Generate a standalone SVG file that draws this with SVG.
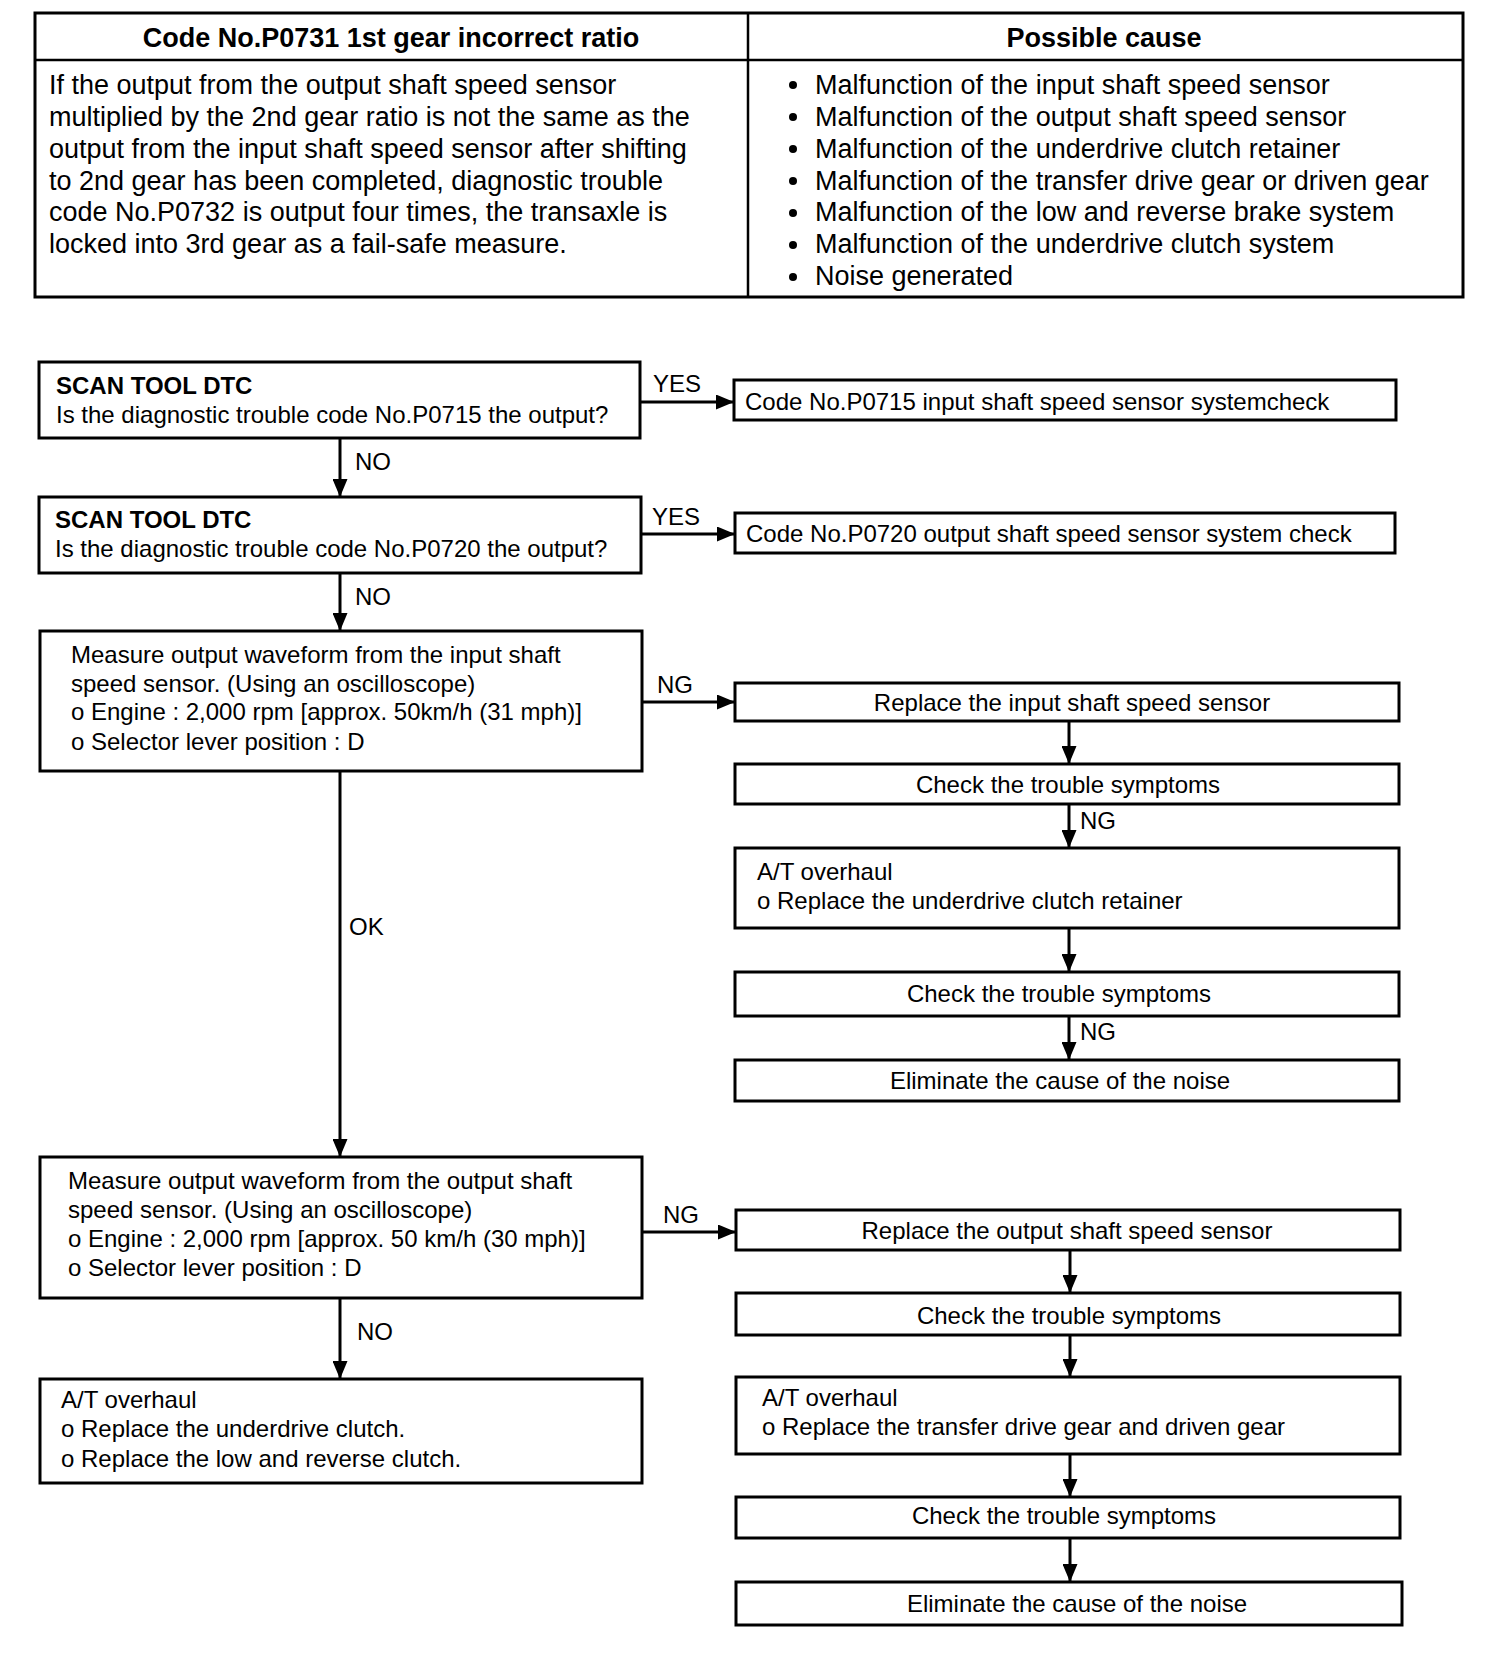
<svg xmlns="http://www.w3.org/2000/svg" width="1504" height="1668" viewBox="0 0 1504 1668">
<style>
.bx{fill:#fff;stroke:#000;stroke-width:3}
.t{font-family:"Liberation Sans",Arial,sans-serif;font-size:24px;fill:#000}
.tb{font-family:"Liberation Sans",Arial,sans-serif;font-size:27px;fill:#000}
.b{font-weight:bold}
.c{text-anchor:middle}
.ln{fill:none;stroke:#000;stroke-width:3}
</style>
<defs>
<marker id="ah" markerUnits="userSpaceOnUse" markerWidth="19" markerHeight="15" refX="18" refY="7.5" orient="auto">
<path d="M0,0 L18,7.5 L0,15 z" fill="#000"/>
</marker>
</defs>
<rect x="0" y="0" width="1504" height="1668" fill="#fff"/>

<g id="table">
<rect x="35" y="13" width="1428" height="284" fill="none" stroke="#000" stroke-width="3"/>
<line x1="35" y1="60" x2="1463" y2="60" stroke="#000" stroke-width="2.5"/>
<line x1="748" y1="13" x2="748" y2="297" stroke="#000" stroke-width="2.5"/>
<text class="tb b c" x="391" y="47">Code No.P0731 1st gear incorrect ratio</text>
<text class="tb b c" x="1104" y="47">Possible cause</text>
<text class="tb" x="49" y="94">If the output from the output shaft speed sensor</text>
<text class="tb" x="49" y="126">multiplied by the 2nd gear ratio is not the same as the</text>
<text class="tb" x="49" y="158">output from the input shaft speed sensor after shifting</text>
<text class="tb" x="49" y="190">to 2nd gear has been completed, diagnostic trouble</text>
<text class="tb" x="49" y="221">code No.P0732 is output four times, the transaxle is</text>
<text class="tb" x="49" y="253">locked into 3rd gear as a fail-safe measure.</text>
<g>
<circle cx="793" cy="85" r="4"/>
<circle cx="793" cy="117" r="4"/>
<circle cx="793" cy="149" r="4"/>
<circle cx="793" cy="181" r="4"/>
<circle cx="793" cy="213" r="4"/>
<circle cx="793" cy="245" r="4"/>
<circle cx="793" cy="277" r="4"/>
</g>
<text class="tb" x="815" y="94">Malfunction of the input shaft speed sensor</text>
<text class="tb" x="815" y="126">Malfunction of the output shaft speed sensor</text>
<text class="tb" x="815" y="158">Malfunction of the underdrive clutch retainer</text>
<text class="tb" x="815" y="190">Malfunction of the transfer drive gear or driven gear</text>
<text class="tb" x="815" y="221">Malfunction of the low and reverse brake system</text>
<text class="tb" x="815" y="253">Malfunction of the underdrive clutch system</text>
<text class="tb" x="815" y="285">Noise generated</text>
</g>

<g id="connectors">
<line class="ln" x1="640" y1="402" x2="734" y2="402" marker-end="url(#ah)"/>
<line class="ln" x1="340" y1="438" x2="340" y2="497" marker-end="url(#ah)"/>
<line class="ln" x1="641" y1="534" x2="735" y2="534" marker-end="url(#ah)"/>
<line class="ln" x1="340" y1="573" x2="340" y2="631" marker-end="url(#ah)"/>
<line class="ln" x1="642" y1="702" x2="735" y2="702" marker-end="url(#ah)"/>
<line class="ln" x1="1069" y1="721" x2="1069" y2="764" marker-end="url(#ah)"/>
<line class="ln" x1="1069" y1="804" x2="1069" y2="848" marker-end="url(#ah)"/>
<line class="ln" x1="1069" y1="928" x2="1069" y2="972" marker-end="url(#ah)"/>
<line class="ln" x1="1069" y1="1016" x2="1069" y2="1060" marker-end="url(#ah)"/>
<line class="ln" x1="340" y1="771" x2="340" y2="1157" marker-end="url(#ah)"/>
<line class="ln" x1="642" y1="1232" x2="736" y2="1232" marker-end="url(#ah)"/>
<line class="ln" x1="1070" y1="1250" x2="1070" y2="1293" marker-end="url(#ah)"/>
<line class="ln" x1="1070" y1="1335" x2="1070" y2="1377" marker-end="url(#ah)"/>
<line class="ln" x1="1070" y1="1454" x2="1070" y2="1497" marker-end="url(#ah)"/>
<line class="ln" x1="1070" y1="1538" x2="1070" y2="1582" marker-end="url(#ah)"/>
<line class="ln" x1="340" y1="1298" x2="340" y2="1379" marker-end="url(#ah)"/>
<text class="t" x="653" y="392">YES</text>
<text class="t" x="355" y="470">NO</text>
<text class="t" x="652" y="525">YES</text>
<text class="t" x="355" y="605">NO</text>
<text class="t" x="657" y="693">NG</text>
<text class="t" x="1080" y="829">NG</text>
<text class="t" x="349" y="935">OK</text>
<text class="t" x="1080" y="1040">NG</text>
<text class="t" x="663" y="1223">NG</text>
<text class="t" x="357" y="1340">NO</text>
</g>

<g id="nodeA">
<rect class="bx" x="39" y="362" width="601" height="76"/>
<text class="t b" x="56" y="394">SCAN TOOL DTC</text>
<text class="t" x="56" y="423">Is the diagnostic trouble code No.P0715 the output?</text>
</g>
<g id="nodeB">
<rect class="bx" x="734" y="380" width="662" height="40"/>
<text class="t" x="745" y="410">Code No.P0715 input shaft speed sensor systemcheck</text>
</g>
<g id="nodeC">
<rect class="bx" x="39" y="497" width="602" height="76"/>
<text class="t b" x="55" y="528">SCAN TOOL DTC</text>
<text class="t" x="55" y="557">Is the diagnostic trouble code No.P0720 the output?</text>
</g>
<g id="nodeD">
<rect class="bx" x="735" y="513" width="660" height="40"/>
<text class="t" x="746" y="542">Code No.P0720 output shaft speed sensor system check</text>
</g>
<g id="nodeE">
<rect class="bx" x="40" y="631" width="602" height="140"/>
<text class="t" x="71" y="663">Measure output waveform from the input shaft</text>
<text class="t" x="71" y="692">speed sensor. (Using an oscilloscope)</text>
<text class="t" x="71" y="720">o Engine : 2,000 rpm [approx. 50km/h (31 mph)]</text>
<text class="t" x="71" y="750">o Selector lever position : D</text>
</g>
<g id="nodeF">
<rect class="bx" x="735" y="683" width="664" height="38"/>
<text class="t c" x="1072" y="711">Replace the input shaft speed sensor</text>
</g>
<g id="nodeG">
<rect class="bx" x="735" y="764" width="664" height="40"/>
<text class="t c" x="1068" y="793">Check the trouble symptoms</text>
</g>
<g id="nodeH">
<rect class="bx" x="735" y="848" width="664" height="80"/>
<text class="t" x="757" y="880">A/T overhaul</text>
<text class="t" x="757" y="909">o Replace the underdrive clutch retainer</text>
</g>
<g id="nodeI">
<rect class="bx" x="735" y="972" width="664" height="44"/>
<text class="t c" x="1059" y="1002">Check the trouble symptoms</text>
</g>
<g id="nodeJ">
<rect class="bx" x="735" y="1060" width="664" height="41"/>
<text class="t c" x="1060" y="1089">Eliminate the cause of the noise</text>
</g>
<g id="nodeK">
<rect class="bx" x="40" y="1157" width="602" height="141"/>
<text class="t" x="68" y="1189">Measure output waveform from the output shaft</text>
<text class="t" x="68" y="1218">speed sensor. (Using an oscilloscope)</text>
<text class="t" x="68" y="1247">o Engine : 2,000 rpm [approx. 50 km/h (30 mph)]</text>
<text class="t" x="68" y="1276">o Selector lever position : D</text>
</g>
<g id="nodeL">
<rect class="bx" x="736" y="1210" width="664" height="40"/>
<text class="t c" x="1067" y="1239">Replace the output shaft speed sensor</text>
</g>
<g id="nodeM">
<rect class="bx" x="736" y="1293" width="664" height="42"/>
<text class="t c" x="1069" y="1324">Check the trouble symptoms</text>
</g>
<g id="nodeN">
<rect class="bx" x="736" y="1377" width="664" height="77"/>
<text class="t" x="762" y="1406">A/T overhaul</text>
<text class="t" x="762" y="1435">o Replace the transfer drive gear and driven gear</text>
</g>
<g id="nodeO">
<rect class="bx" x="736" y="1497" width="664" height="41"/>
<text class="t c" x="1064" y="1524">Check the trouble symptoms</text>
</g>
<g id="nodeP">
<rect class="bx" x="736" y="1582" width="666" height="43"/>
<text class="t c" x="1077" y="1612">Eliminate the cause of the noise</text>
</g>
<g id="nodeQ">
<rect class="bx" x="40" y="1379" width="602" height="104"/>
<text class="t" x="61" y="1408">A/T overhaul</text>
<text class="t" x="61" y="1437">o Replace the underdrive clutch.</text>
<text class="t" x="61" y="1467">o Replace the low and reverse clutch.</text>
</g>
</svg>
